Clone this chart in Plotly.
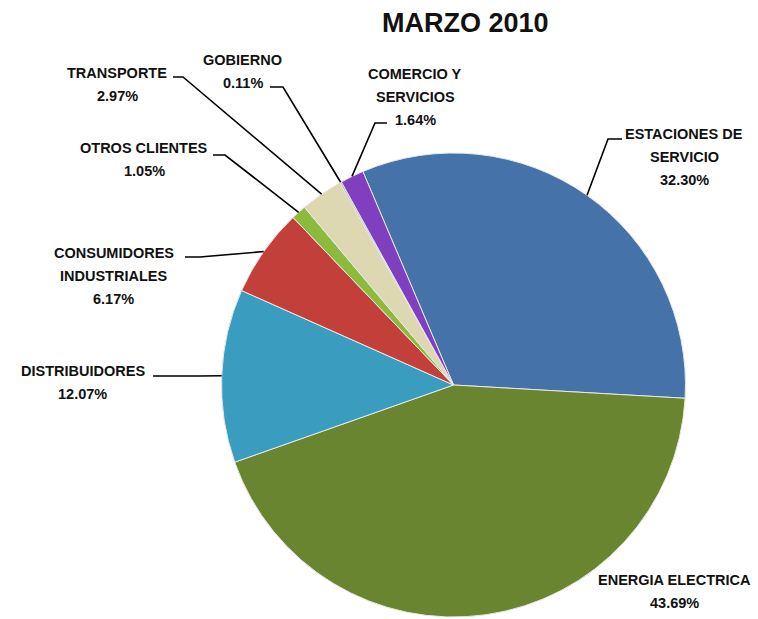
import math
import plotly.graph_objects as go

# ---------------- data ----------------
categories = ["ESTACIONES DE SERVICIO", "ENERGIA ELECTRICA", "DISTRIBUIDORES",
              "CONSUMIDORES INDUSTRIALES", "OTROS CLIENTES", "TRANSPORTE",
              "GOBIERNO", "COMERCIO Y SERVICIOS"]
values = [32.30, 43.69, 12.07, 6.17, 1.05, 2.97, 0.11, 1.64]
label_lines = [["ESTACIONES DE", "SERVICIO"], ["ENERGIA ELECTRICA"], ["DISTRIBUIDORES"],
               ["CONSUMIDORES", "INDUSTRIALES"], ["OTROS CLIENTES"], ["TRANSPORTE"],
               ["GOBIERNO"], ["COMERCIO Y", "SERVICIOS"]]
title_text = "MARZO 2010"

# ---------------- style / layout ----------------
colors = ["#4672AA", "#69852F", "#3A9CBE", "#C3403A", "#8CBA3C", "#DDD8B2",
          "#9FA8B8", "#7F3FBF"]
W, H = 758, 619
pie_box = (220, 153, 687, 617)  # left, top, right, bottom in px
ROT = -23
FONT = "Liberation Sans, Arial, sans-serif"
LABEL_SIZE = 14.5

# label text placement: (center x, first line center y) in px
label_pos = [(684, 134), (674, 580), (82.5, 371), (113.5, 253), (144, 148),
             (117, 73), (242.5, 60), (415, 74)]
# leader: (x start at text, x elbow, y) in px; None = no leader
leaders = [(622, 608, 139), None, (153, 200, 376), (185, 200, 257), (213, 225, 155),
           (173, 183, 77), (270, 283, 87), (387, 375, 123)]
LINE_SP = 23


def px2paper(x, y):
    return x / W, 1 - y / H


d0 = px2paper(pie_box[0], pie_box[3])
d1 = px2paper(pie_box[2], pie_box[1])
fig = go.Figure(go.Pie(
    labels=categories, values=values, sort=False, direction="clockwise",
    rotation=ROT, textinfo="none", hoverinfo="label+percent",
    marker=dict(colors=colors, line=dict(color="#E8E8E8", width=1)),
    domain=dict(x=[d0[0], d1[0]], y=[d0[1], d1[1]]),
    showlegend=False,
))

cx = (pie_box[0] + pie_box[2]) / 2
cy = (pie_box[1] + pie_box[3]) / 2
r = min(pie_box[2] - pie_box[0], pie_box[3] - pie_box[1]) / 2
total = sum(values)

annotations = []
shapes = []
cum = 0.0
for i, v in enumerate(values):
    mid = math.radians(ROT + 360 * (cum + v / 2) / total)
    cum += v
    ex, ey = cx + r * math.sin(mid), cy - r * math.cos(mid)
    lines = label_lines[i] + ["%.2f%%" % v]
    lx, ly = label_pos[i]
    for k, t in enumerate(lines):
        px, py = px2paper(lx, ly + k * LINE_SP)
        annotations.append(dict(x=px, y=py, xref="paper", yref="paper", text=t,
                                showarrow=False, xanchor="center", yanchor="middle",
                                font=dict(family=FONT, size=LABEL_SIZE, color="#111111",
                                          weight="bold")))
    ld = leaders[i]
    if ld is not None:
        x0, x1, yy = ld
        p0 = px2paper(x0, yy)
        p1 = px2paper(x1, yy)
        p2 = px2paper(ex, ey)
        shapes.append(dict(type="path", xref="paper", yref="paper",
                           path="M %f %f L %f %f L %f %f" % (p0[0], p0[1], p1[0], p1[1], p2[0], p2[1]),
                           line=dict(color="black", width=1.6)))

tx, ty = px2paper(465, 23)
annotations.append(dict(x=tx, y=ty, xref="paper", yref="paper", text=title_text,
                        showarrow=False, xanchor="center", yanchor="middle",
                        font=dict(family=FONT, size=27, color="#111111", weight="bold")))

fig.update_layout(width=W, height=H, autosize=False,
                  margin=dict(l=0, r=0, t=0, b=0),
                  paper_bgcolor="white", plot_bgcolor="white",
                  annotations=annotations, shapes=shapes)

fig.write_html("out.html", config={"displayModeBar": False},
               post_script="document.body.style.margin='0';"
                           "document.body.style.overflow='hidden';")
